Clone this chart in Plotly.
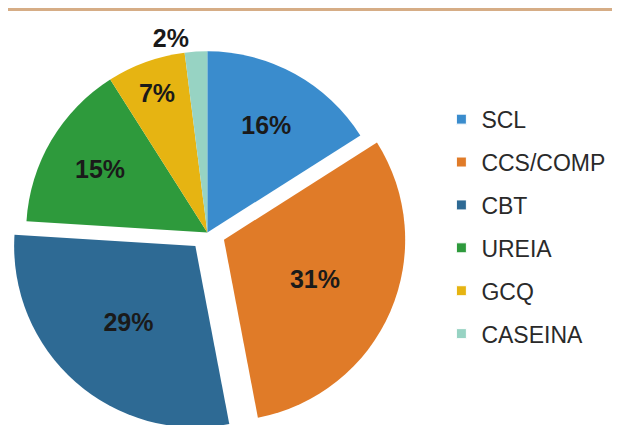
import plotly.graph_objects as go

categories = ["SCL", "CCS/COMP", "CBT", "UREIA", "GCQ", "CASEINA"]
values = [16, 31, 29, 15, 7, 2]
colors = ["#3a8ccd", "#e07b28", "#2e6a94", "#2e9a3c", "#e6b412", "#97d3c3"]
pulls = [0, 0.1, 0.1, 0, 0, 0]
textpos = ["inside", "inside", "inside", "inside", "inside", "outside"]

fig = go.Figure()
fig.add_trace(go.Pie(
    labels=categories, values=values, sort=False, direction="clockwise",
    rotation=0, pull=pulls,
    marker=dict(colors=colors, line=dict(width=0)),
    texttemplate="%{percent:.0%}", textinfo="percent",
    textposition=textpos, insidetextorientation="horizontal",
    textfont=dict(family="Liberation Sans", size=25, color="#1a1a1a", weight="bold"),
    showlegend=False, hoverinfo="label+percent",
    domain=dict(x=[0.0, 0.643], y=[0.0, 0.9435]),
))

for name, col in zip(categories, colors):
    fig.add_trace(go.Scatter(
        x=[None], y=[None], mode="markers", name=name, legendgroup=name,
        marker=dict(symbol="square", size=10, color=col, line=dict(width=1, color="#ffffff")),
    ))

fig.update_layout(
    width=620, height=425,
    margin=dict(l=0, r=0, t=0, b=0, autoexpand=False),
    paper_bgcolor="#ffffff", plot_bgcolor="#ffffff",
    xaxis=dict(visible=False), yaxis=dict(visible=False),
    legend=dict(x=0.699, y=0.789, xanchor="left", yanchor="top",
                font=dict(family="Liberation Sans", size=23, color="#2a2a2a"),
                tracegroupgap=10, itemwidth=30, bgcolor="rgba(0,0,0,0)"),
    shapes=[dict(type="line", xref="paper", yref="paper", x0=0, x1=1,
                 y0=1 - 1.5 / 425, y1=1 - 1.5 / 425,
                 line=dict(color="#d6ad86", width=3))],
)

fig.write_html("out.html")
